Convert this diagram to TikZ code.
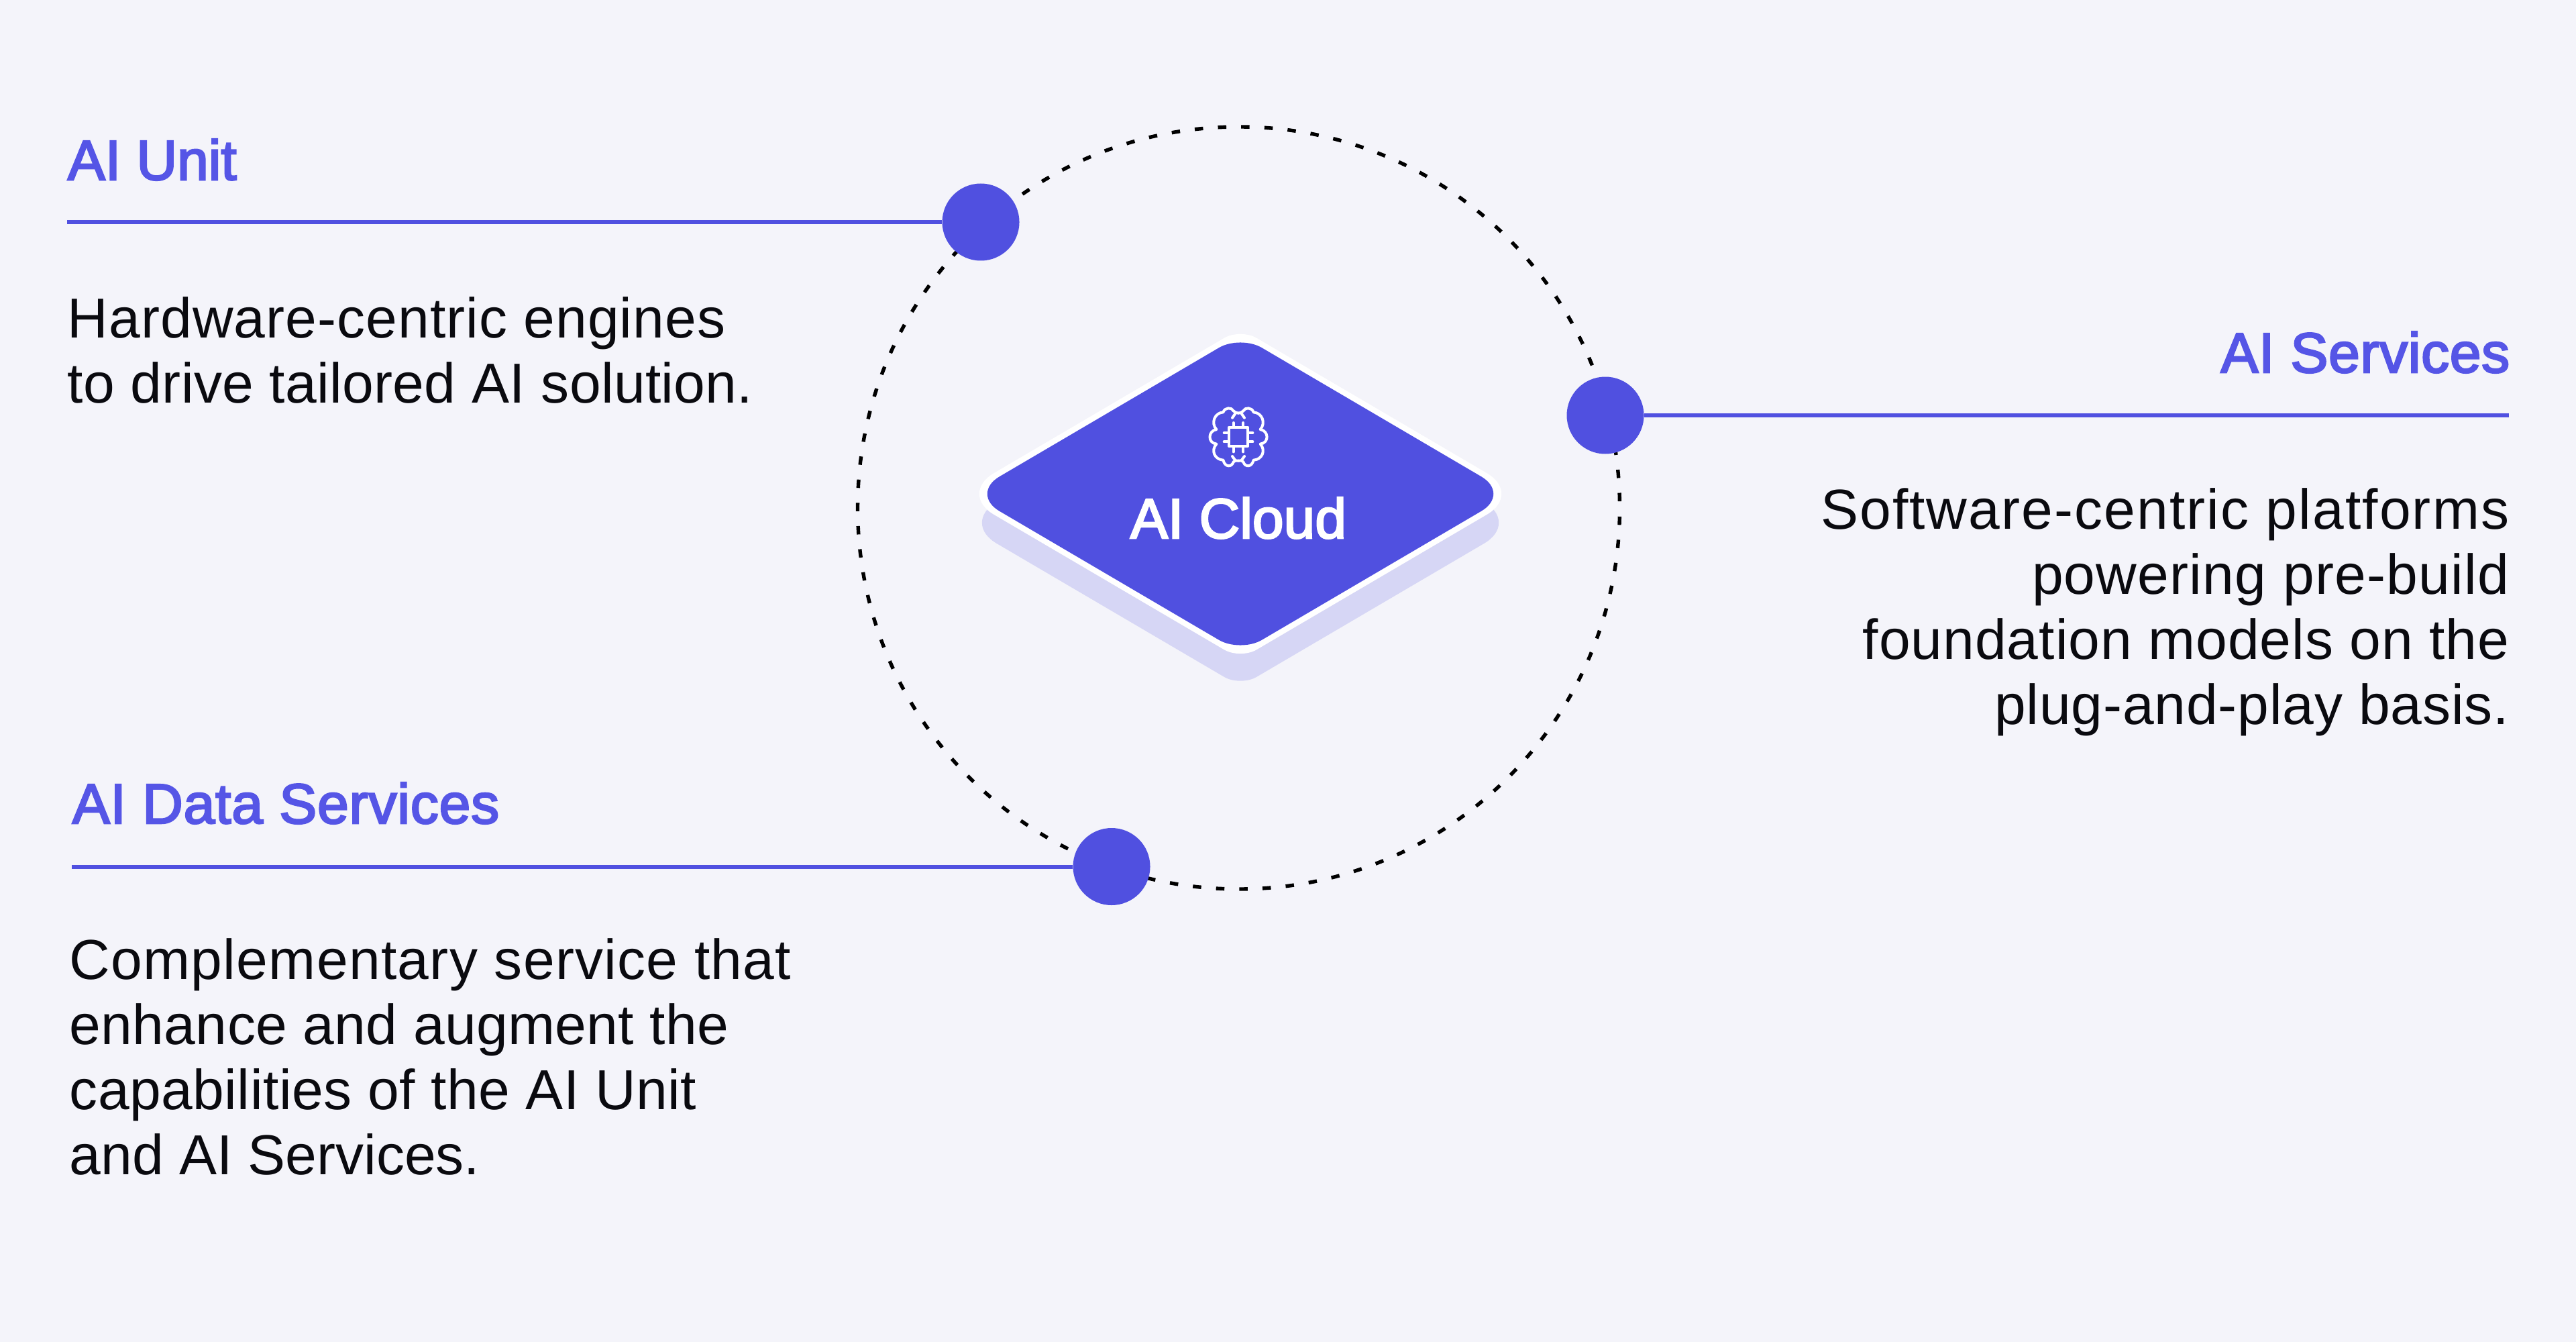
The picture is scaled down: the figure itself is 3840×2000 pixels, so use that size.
\documentclass[tikz,border=0pt]{standalone}
\usepackage{fontspec}
\setmainfont{Liberation Sans}
\newfontfamily\medf[FakeBold=3]{Liberation Sans}
\definecolor{bgc}{HTML}{F4F4FA}
\definecolor{ind}{HTML}{5050E0}
\definecolor{ttlc}{HTML}{5555E6}
\definecolor{shd}{HTML}{D6D6F5}
\definecolor{ink}{HTML}{0A0A0F}
\newcommand{\ls}[2]{{\addfontfeature{LetterSpace=#1}#2}}
\newcommand{\rhomb}[6]{% cx cy a b dleft dtop
 (#1+0.5*#3,#2-0.5*#4) [rounded corners=#5] -- (#1+#3,#2) [rounded corners=#6] -- (#1,#2+#4) [rounded corners=#5] -- (#1-#3,#2) [rounded corners=#6] -- (#1,#2-#4) [sharp corners] -- (#1+0.5*#3,#2-0.5*#4) -- cycle}
\tikzset{
 px/.style={x=0.25pt,y=-0.25pt},
 rule/.style={draw=ind,line width=1.5pt},
 dotn/.style={circle,fill=ind,minimum size=28.75pt,inner sep=0pt},
 ttl/.style={text=ttlc,inner sep=0pt,font=\medf\fontsize{21}{25}\selectfont},
 bod/.style={text=ink,inner sep=0pt,font=\fontsize{21}{24.25}\selectfont,align=left},
 bodr/.style={text=ink,inner sep=0pt,font=\fontsize{21}{24.25}\selectfont,align=right},
 orbit/.style={draw=black,line width=1.35pt,dash pattern=on 3.125pt off 5.537pt,dash phase=6.17pt},
 ic/.style={draw=white,line width=1pt,line cap=round,line join=round},
}
\newcommand{\brainhalf}{
 \draw[ic] (0,-108) .. controls (10,-108) and (15,-112) .. (22,-118)
   .. controls (30,-135) and (60,-135) .. (68,-112)
   .. controls (105,-110) and (125,-65) .. (98,-35)
   .. controls (135,-30) and (140,25) .. (98,30)
   .. controls (125,60) and (105,100) .. (68,102)
   .. controls (60,135) and (30,135) .. (22,110)
   .. controls (15,103) and (10,103) .. (0,105);
 \draw[ic] (27,-87) -- (14,-106);
 \draw[ic] (27,85) -- (14,103);
 \draw[ic] (42,-20) -- (64,-20);
 \draw[ic] (42,20) -- (64,20);
 \draw[ic] (22,-45) -- (22,-65);
 \draw[ic] (22,40) -- (22,65);
 \draw[ic] (0,-45) -- (42,-45) -- (42,40) -- (0,40);
}
\begin{document}
\begin{tikzpicture}[px]
\path[fill=bgc] (0,0) rectangle (3840,2000);
\useasboundingbox (0,0) rectangle (3840,2000);
\draw[orbit] (1846.5,757) circle[radius=142pt];
% platform
\path[fill=shd] \rhomb{1849}{779}{416}{244}{15.25pt}{7pt};
\path[fill=white] \rhomb{1849}{736}{420}{246.4}{15.25pt}{7pt};
\path[fill=ind] \rhomb{1849}{736}{403}{236.5}{12.75pt}{9.25pt};
% icon
\begin{scope}[shift={(1846,651.7)},x=0.08333pt,y=-0.08333pt]\brainhalf\end{scope}
\begin{scope}[shift={(1846,651.7)},x=-0.08333pt,y=-0.08333pt]\brainhalf\end{scope}
\node[text=white,inner sep=0pt,anchor=base,font=\medf\fontsize{21}{25}\selectfont] (cloud) at (1846,802) {AI Cloud};
% AI Unit
\coordinate (u0) at (100,331);
\node[dotn] (u1) at (1462,331) {};
\draw[rule] (u0) -- (u1);
\node[ttl,anchor=base west] (ut) at (100,268) {AI Unit};
\node[bod,anchor=base west] (ub) at (100,600.5) {\ls{1.27}{Hardware-centric engines}\\\ls{0.4}{to drive tailored AI solution.}};
% AI Services
\coordinate (s0) at (3740,619);
\node[dotn] (s1) at (2393,619) {};
\draw[rule] (s0) -- (s1);
\node[ttl,anchor=base east] (st) at (3742,555) {\ls{0.8}{AI Services}};
\node[bodr,anchor=base east] (sb) at (3741,1079.5) {\ls{2.5}{Software-centric platforms}\\\ls{1.5}{powering pre-build}\\\ls{1.2}{foundation models on the}\\\ls{1.0}{plug-and-play basis.}};
% AI Data Services
\coordinate (d0) at (107,1291.5);
\node[dotn] (d1) at (1657,1291.5) {};
\draw[rule] (d0) -- (d1);
\node[ttl,anchor=base west] (dt) at (107,1227) {\ls{1.0}{AI Data Services}};
\node[bod,anchor=base west] (db) at (103,1750.5) {\ls{1.55}{Complementary service that}\\\ls{0.4}{enhance and augment the}\\\ls{0.55}{capabilities of the AI Unit}\\and AI Services.};
\end{tikzpicture}
\end{document}
